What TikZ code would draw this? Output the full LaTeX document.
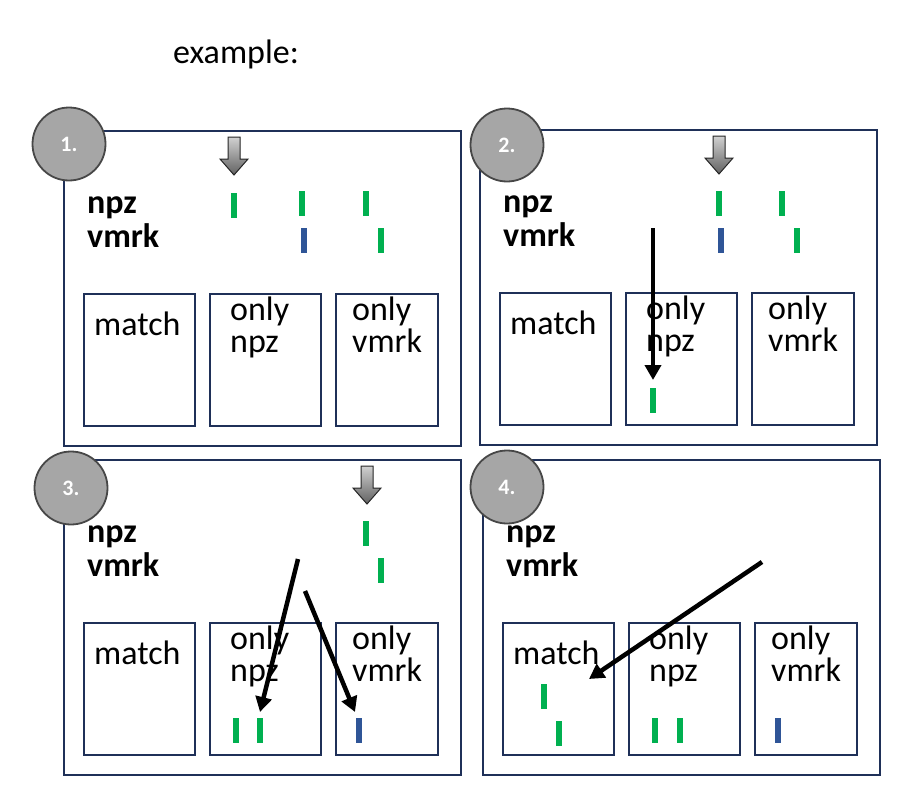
\documentclass[tikz,border=0pt]{standalone}
\usepackage{fontspec}
\setmainfont{Carlito}
\usetikzlibrary{arrows.meta}

\definecolor{frameblue}{HTML}{1F3058}
\definecolor{npzgreen}{HTML}{00B050}
\definecolor{vmrkblue}{HTML}{2F5597}
\definecolor{stepgray}{HTML}{A6A6A6}

\begin{document}
\begin{tikzpicture}[x=1pt, y=-1pt,
   frame/.style={draw=frameblue, line width=2pt, inner sep=0pt, anchor=north west},
   bin/.style={frame, minimum height=132pt},
   lbl/.style={anchor=base west, inner sep=0pt, font=\fontsize{34}{40}\selectfont},
   row/.style={lbl, font=\fontsize{34}{40}\selectfont\bfseries},
   num/.style={circle, draw=black!72, line width=1.8pt, fill=stepgray,
      minimum size=73pt, inner sep=0pt, text=white,
      font=\fontsize{22}{26}\selectfont\bfseries},
   pointer/.style={draw=black!85, line width=1pt, top color=black!18, bottom color=black!62},
   npzmark/.style={npzgreen, line width=6pt},
   vmrkmark/.style={vmrkblue, line width=6pt},
   move/.style={line width=4.5pt, -{Triangle[length=15pt,width=16pt]}}
]
   \useasboundingbox (0,0) rectangle (916,787);

   \node[lbl] (title) at (173,63) {example:};

   % the four panels
   \foreach \px/\py/\cx/\cy/\n in {63/130/6/14/1, 479/129/28/16/2, 63/459/8/29/3, 482/459/25/28/4} {
      \begin{scope}[shift={(\px,\py)}]
         \node[frame, minimum width=397pt, minimum height=315pt] (frame\n) at (0,0) {};
         \node[row] (npz\n) at (24,83) {npz};
         \node[row] (vmrk\n) at (24,117) {vmrk};

         \node[bin, minimum width=111pt] (match\n) at (20,163) {};
         \node[bin, minimum width=111pt] (onlynpz\n) at (146,163) {};
         \node[bin, minimum width=102pt] (onlyvmrk\n) at (272,163) {};

         \node[lbl] (matchtxt\n) at (31,205) {match};
         \node[lbl] (onlyA\n) at (167,190) {only};
         \node[lbl] (npztxt\n) at (167,222) {npz};
         \node[lbl] (onlyB\n) at (289,190) {only};
         \node[lbl] (vmrktxt\n) at (289,222) {vmrk};

         \node[num] (circ\n) at (\cx,\cy) {\n.};
      \end{scope}
   }

   % gray cursor arrows
   \foreach \gx/\gy in {234/137, 719/136, 367/466}
      \draw[pointer] (\gx-6,\gy) -- (\gx+6,\gy) -- (\gx+6,\gy+22) -- (\gx+14,\gy+22)
         -- (\gx,\gy+38) -- (\gx-14,\gy+22) -- (\gx-6,\gy+22) -- cycle;

   % markers
   \foreach \x/\y in {234/193, 302/191, 366/191, 381/228,
                      719/191, 782/191, 797/228, 653/388,
                      366/521, 381/558, 236/718, 260/718,
                      544/684, 559/721, 655/718, 680/718}
      \draw[npzmark] (\x,\y) -- ++(0,25);
   \foreach \x/\y in {304/228, 721/228, 359/718, 778/718}
      \draw[vmrkmark] (\x,\y) -- ++(0,25);

   % moves
   \coordinate (from2) at (653,228);
   \coordinate (to2) at (653,380);
   \coordinate (from3a) at (298,559);
   \coordinate (to3a) at (260,712);
   \coordinate (from3b) at (305,591);
   \coordinate (to3b) at (355,712);
   \coordinate (from4) at (762,562);
   \coordinate (to4) at (589,679);

   \draw[move] (from2) -- (to2);
   \draw[move] (from3a) -- (to3a);
   \draw[move] (from3b) -- (to3b);
   \draw[move] (from4) -- (to4);
\end{tikzpicture}
\end{document}
